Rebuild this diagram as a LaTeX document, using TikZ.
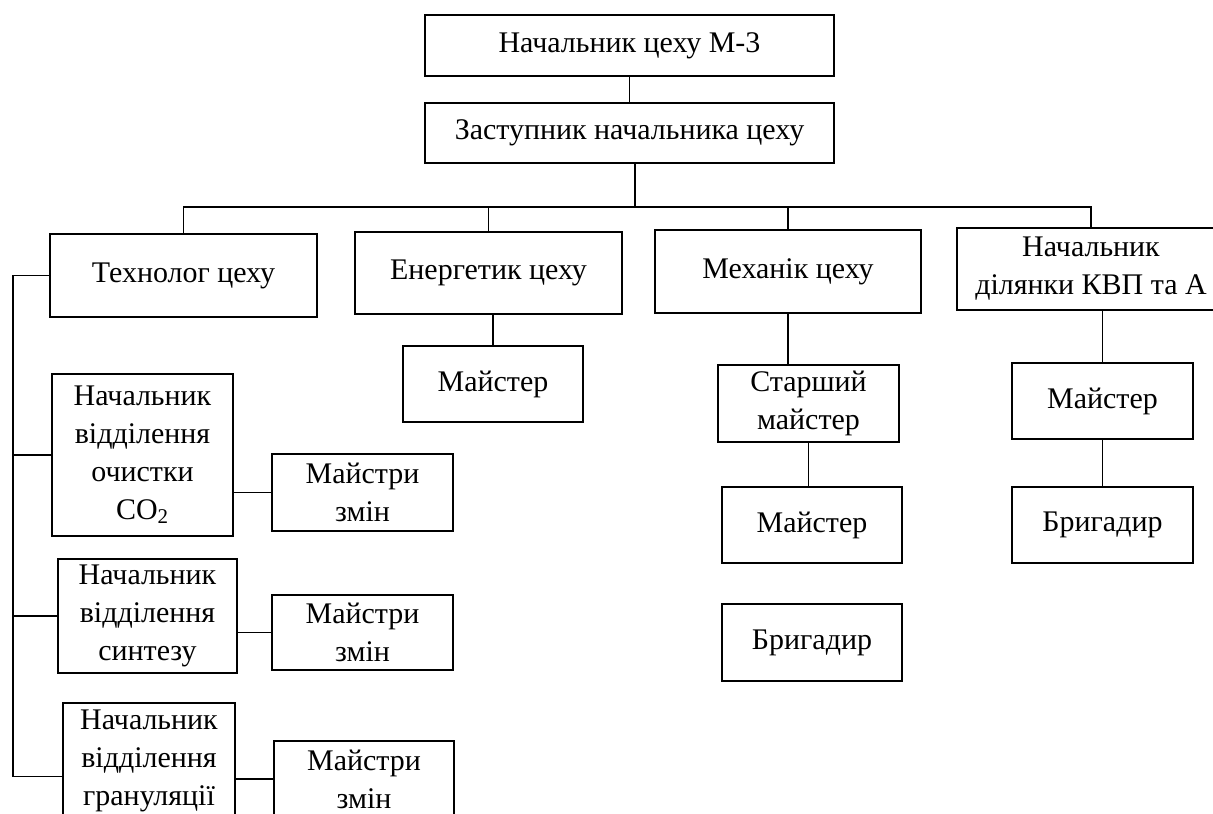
\documentclass[tikz,border=0pt]{standalone}
\usepackage{fontspec}
\setmainfont{Liberation Serif}
\newlength{\unitpx}
\setlength{\unitpx}{0.025cm}
\tikzset{
  box/.style 2 args={draw, line width=1pt, inner sep=0pt, minimum width=#1\unitpx, minimum height=#2\unitpx},
  link/.style={line width=1pt}
}

\begin{document}
\begin{tikzpicture}[
  x=\unitpx, y=-\unitpx,
  every node/.style={font=\fontsize{21.3}{27}\selectfont, align=center}
]
\useasboundingbox (0,0) rectangle (1213,814);
\clip (0,0) rectangle (1213,814);

% Head of the workshop
\node[box={409}{61}] (head) at (629.5,45.5) {Начальник цеху М-3};
\node[box={409}{60}] (deputy) at (629.5,133) {Заступник начальника цеху};

% Second level
\node[box={267}{83}] (tech) at (183.5,275.5) {Технолог цеху};
\node[box={267}{82}] (energ) at (488.5,273) {Енергетик цеху};
\node[box={266}{83}] (mech) at (788,271.5) {Механік цеху};
\node[box={268}{82}] (kvp) at (1091,269) {Начальник\\ділянки КВП та А};

% Under the power engineer
\node[box={180}{76}] (energM) at (493,384) {Майстер};

% Under the mechanic
\node[box={181}{77}] (senior) at (808.5,403.5) {Старший\\майстер};
\node[box={180}{76}] (mechM) at (812,525) {Майстер};
\node[box={180}{77}] (mechB) at (812,642.5) {Бригадир};

% Under the KVP section
\node[box={181}{76}] (kvpM) at (1102.5,401) {Майстер};
\node[box={181}{76}] (kvpB) at (1102.5,525) {Бригадир};

% Under the technologist
\node[box={181}{162}] (co2) at (142.5,455) {Начальник\\відділення\\очистки\\CO\textsubscript{2}};
\node[box={181}{77}] (co2M) at (362.5,492.5) {Майстри\\змін};
\node[box={179}{114}] (syn) at (147.5,616) {Начальник\\відділення\\синтезу};
\node[box={181}{75}] (synM) at (362.5,632.5) {Майстри\\змін};
\node[box={172}{147}] (gran) at (149,776.5) {Начальник\\відділення\\грануляції\\\mbox{}};
\node[box={180}{76}] (granM) at (364,779) {Майстри\\змін};

% Connectors
\coordinate (bus) at (635,207);
\coordinate (spine) at (13,272);
\draw[link] (head) -- (deputy);
\draw[link] (deputy.south -| bus) -- (bus);
\draw[link] (tech.north) |- (bus) -| (kvp.north);
\draw[link] (energ.north) -- (energ.north |- bus);
\draw[link] (mech.north) -- (mech.north |- bus);
\draw[link] (energM.north) -- (energM.north |- energ.south);
\draw[link] (mech.south) -- (mech.south |- senior.north);
\draw[link] (senior.south) -- (senior.south |- mechM.north);
\draw[link] (kvpM.north) -- (kvpM.north |- kvp.south);
\draw[link] (kvpM) -- (kvpB);
\draw[link] (tech.west) -- (tech.west -| spine) -- (gran.west -| spine) -- (gran.west);
\draw[link] (co2.west) -- (co2.west -| spine);
\draw[link] (syn.west) -- (syn.west -| spine);
\draw[link] (co2M.west) -- (co2M.west -| co2.east);
\draw[link] (synM.west) -- (synM.west -| syn.east);
\draw[link] (granM.west) -- (granM.west -| gran.east);

\end{tikzpicture}
\end{document}
